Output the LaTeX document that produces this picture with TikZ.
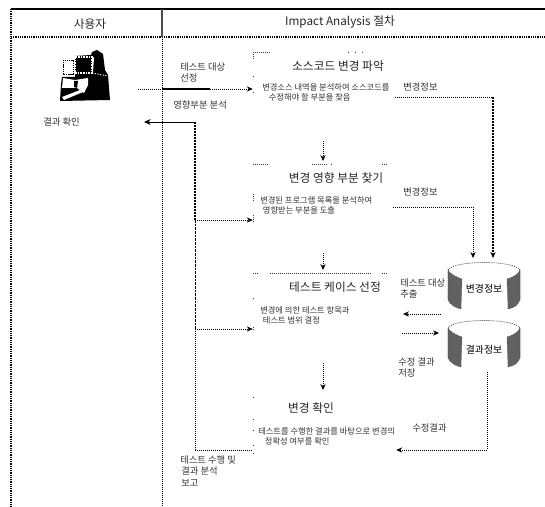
\documentclass[tikz,border=0pt]{standalone}
\usepackage{fontspec}
\setmainfont{Noto Sans CJK KR}
\usetikzlibrary{arrows.meta,patterns,calc}
\tikzset{
  dotl/.style={line width=0.6pt,dash pattern=on 0.75pt off 0.75pt},
  heavy/.style={line width=0.9pt,dash pattern=on 1.5pt off 0.75pt},
  tipped/.style={-{Stealth[length=4.5pt,width=4pt]}},
  frag/.style={line width=0.5pt,dash pattern=on 0.75pt off 0.75pt,black!75},
  lab/.style={font=\fontsize{7pt}{8pt}\selectfont,inner sep=0pt,anchor=west,black!80},
  boxbody/.style={font=\fontsize{6.2pt}{7.8pt}\selectfont,inner sep=0pt,anchor=north west,align=left,black!80},
  boxtitle/.style={font=\fontsize{8.8pt}{9pt}\selectfont,inner sep=0pt,black!85},
  head/.style={font=\fontsize{8.8pt}{10pt}\selectfont,inner sep=0pt,black!85},
  stepbox/.style={inner sep=0pt,minimum width=0pt},
  dbname/.style={font=\fontsize{7.4pt}{9pt}\selectfont,inner sep=0pt},
  shade strip/.style={fill=black!62,draw=black!70,line width=0.4pt,dash pattern=on 0.75pt off 0.75pt}
}
\newcommand{\boxat}[5]{% name x1 y1 x2 y2
  \coordinate (#1nw) at (#2,#3);
  \coordinate (#1se) at (#4,#5);
  \node[stepbox,minimum width={(#4-#2)*0.75pt},minimum height={(#5-#3)*0.75pt}] (#1) at ({(#2+#4)/2},{(#3+#5)/2}) {};
}
\newcommand{\dbat}[3]{% name cx topy
  \node[stepbox,minimum width=54pt,minimum height=37pt] (#1) at (#2,#3+23) {};
  \draw[frag] (#2-36,#3+8) .. controls (#2-30,#3-2) and (#2+30,#3-2) .. (#2+36,#3+8);
  \draw[shade strip] (#2-36,#3+8) -- (#2-36,#3+38) .. controls (#2-34,#3+43) and (#2-28,#3+46) .. (#2-23,#3+47) -- (#2-22,#3+17) .. controls (#2-28,#3+15) and (#2-34,#3+12) .. cycle;
  \draw[shade strip] (#2+36,#3+8) -- (#2+36,#3+38) .. controls (#2+34,#3+43) and (#2+30,#3+46) .. (#2+24,#3+47) -- (#2+23,#3+17) .. controls (#2+30,#3+15) and (#2+34,#3+12) .. cycle;
}
\begin{document}
\begin{tikzpicture}[x=0.75pt,y=-0.75pt]
\useasboundingbox (0,0) rectangle (545,506);
% frame
\draw[line width=1.5pt] (11,9) -- (545,9);
\draw[line width=1.2pt,dash pattern=on 0.75pt off 0.6pt] (11,9) -- (11,506);
\draw[line width=0.9pt,dash pattern=on 0.75pt off 0.6pt] (11,37) -- (545,37);
\draw[line width=0.8pt,black!70] (162,9) -- (162,37);
\draw[dotl] (162,37) -- (162,506);
\node[head] (hu) at (90,24) {사용자};
\node[head] (hi) at (340,22) {Impact Analysis 절차};
% user icon
\fill[black] (60,101) -- (61,84) -- (62,77) -- (75,77) -- (75,56) -- (91,55) -- (92,52) -- (97,50) -- (103,54) -- (105,70) -- (108,75) -- (110,100) -- cycle;
\fill[white] (63,78) -- (75,80) -- (88,78) -- (88,85) -- (84,93) -- (77,88) -- (62,88) -- cycle;
\fill[black] (74,81) -- (78,81) -- (77,88) -- (74,87) -- cycle;
\fill[white] (62,97) -- (80,90) -- (83,92) -- (64,100) -- cycle;
\draw[line width=0.7pt,dash pattern=on 1pt off 0.6pt,fill=white] (63,60) rectangle (73,74);
\draw[white,line width=0.8pt,dash pattern=on 1.2pt off 0.8pt] (75,57) rectangle (92,73);
\fill[white] (92,56) -- (94,58) -- (93,72) -- (92,72) -- cycle;
\draw[white,line width=0.6pt,dash pattern=on 1pt off 1pt] (92,73) -- (108,76);
\node[stepbox,minimum width=37pt,minimum height=38pt] (user) at (85,75) {};
% boxes
\boxat{b1}{253}{52}{395}{142}
\boxat{b2}{253}{164}{393}{250}
\boxat{b3}{253}{273}{390}{360}
\boxat{b4}{253}{397}{396}{453}
% box fragments
\draw[frag] (253,52) -- (270,52) (348,52) -- (350,52) (355,52) -- (357,52) (362,52) -- (364,52);
\draw[frag] (253,52) -- (253,60) (253,76) -- (253,78) (253,92) -- (253,94);
\draw[frag] (253,164) -- (269,164) (312,164) -- (328,164) (331,164) -- (332,164) (382,164) -- (388,164);
\draw[frag] (253,194) -- (253,202) (253,215) -- (253,222);
\draw[frag] (253,273) -- (259,273) (270,273) -- (371,273) (382,273) -- (387,273);
\draw[frag] (253,298) -- (253,300) (253,327) -- (253,330);
\draw[frag] (253,397) -- (253,399) (253,419) -- (253,421) (253,430) -- (253,432) (253,445) -- (253,447) (253,453) -- (253,455);
% box texts
\node[boxtitle] (t1) at (338,66) {소스코드 변경 파악};
\node[boxbody] (d1) at (262,83) {변경소스 내역을 분석하여 소스코드를\\\hspace*{5pt}수정해야 할 부분을 찾음};
\node[boxtitle] (t2) at (336,178) {변경 영향 부분 찾기};
\node[boxbody] (d2) at (260,196) {변경된 프로그램 목록을 분석하여\\\hspace*{2pt}영향받는 부분을 도출};
\node[boxtitle] (t3) at (335,287) {테스트 케이스 선정};
\node[boxbody] (d3) at (260,306) {변경에 의한 테스트 항목과\\\hspace*{2pt}테스트 범위 결정};
\node[boxtitle] (t4) at (311,408) {변경 확인};
\node[boxbody] (d4) at (258,427) {테스트를 수행한 결과를 바탕으로 변경의\\\hspace*{5pt}정확성 여부를 확인};
% databases
\dbat{db1}{484}{262}
\dbat{db2}{484}{320}
\node[dbname] (n1) at (484,289) {변경정보};
\node[dbname] (n2) at (484,350) {결과정보};
% junctions
\coordinate (bus) at (195,122);
\coordinate (busb) at (195,450);
\coordinate (busm) at (195,220);
% connectors
\draw[tipped,dotl] (138,89) -- (b1.west |- 0,89);
\draw[line width=0.8pt] (162,89) -- (210,89);
\draw[dotl] (b1.east) -- (493,97);
\draw[heavy,tipped] (493,97) -- (493,258);
\draw[dotl,line width=0.7pt,tipped] (b2.east) -| (473,258);
\draw[line width=0.7pt,-{Stealth[length=5pt,width=4.5pt]}] (bus) -- (144,122);
\draw[heavy] (bus) -- (busm);
\draw[line width=0.7pt,dash pattern=on 2pt off 0.75pt] (busm) -- (195,329);
\draw[dotl,line width=0.7pt] (195,329) -- (busb);
\draw[dotl] (busb) -- (b4.west |- busb);
\draw[dotl,line width=0.7pt,tipped] (busm) -- (b2.west |- busm);
\draw[dotl,line width=0.7pt,tipped] (195,329) -- (b3.west |- 0,329);
\draw[dotl,tipped] (323,141) -- (323,161);
\draw[dotl,tipped] (323,253) -- (323,270);
\draw[dotl,tipped] (323,363) -- (323,390);
\draw[dotl,tipped] (441,314) -- (403,314);
\draw[dotl,tipped] (402,333) -- (439,333);
\draw[dotl,line width=0.7pt,tipped] (487,372) -- (487,450) -- (b4.east |- busb);
% labels
\node[lab] (l1) at (180,67) {테스트 대상};
\node[lab] (l2) at (180,78) {선정};
\node[lab] (l3) at (173,105) {영향부분 분석};
\node[lab] (l4) at (43,122) {결과 확인};
\node[lab] (l5) at (403,87) {변경정보};
\node[lab] (l6) at (403,192) {변경정보};
\node[lab] (l7) at (400,283) {테스트 대상};
\node[lab] (l8) at (400,294) {추출};
\node[lab] (l9) at (398,362) {수정 결과};
\node[lab] (l10) at (398,373) {저장};
\node[lab] (l11) at (412,428) {수정결과};
\node[lab] (l12) at (180,460) {테스트 수행 및};
\node[lab] (l13) at (181,471) {결과 분석};
\node[lab] (l14) at (181,483) {보고};
\end{tikzpicture}
\end{document}
